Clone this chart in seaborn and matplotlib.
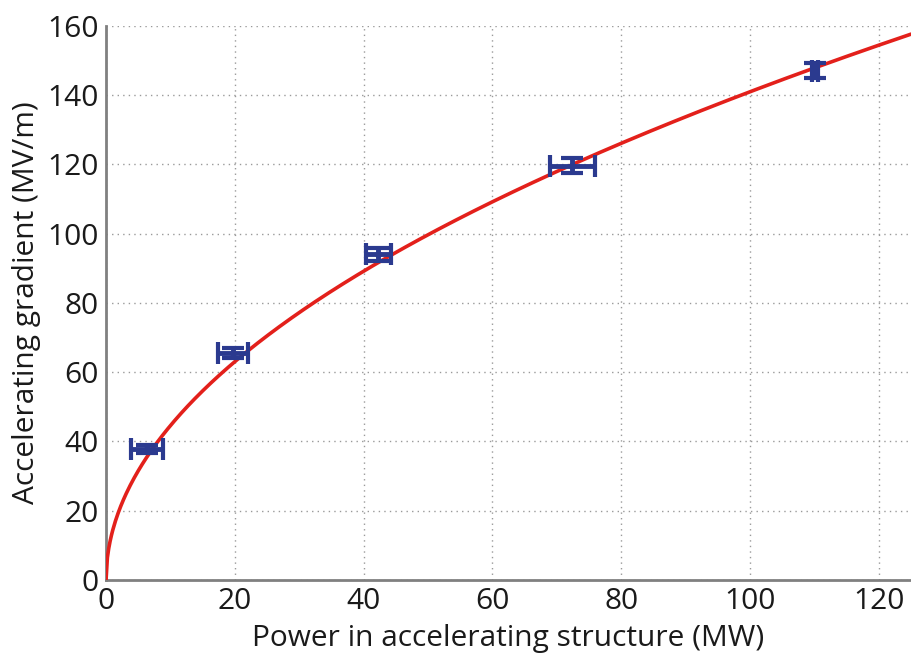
import numpy as np
import pandas as pd
import matplotlib
matplotlib.use("Agg")
import matplotlib.pyplot as plt
import seaborn as sns

# Measured points
power = [6.4, 19.7, 42.3, 72.4, 110.1]
gradient = [37.8, 65.6, 94.0, 119.7, 147.1]
power_err = [2.5, 2.3, 2.0, 3.5, 0.5]
gradient_err = [1.2, 1.5, 1.8, 2.2, 2.2]

# Fit G = k * sqrt(P), coefficient
fit_coef = 14.1
fit_power_max = 125

x_ticks = [0, 20, 40, 60, 80, 100, 120]
y_ticks = [0, 20, 40, 60, 80, 100, 120, 140, 160]

sns.set_style("white")
plt.rcParams['font.family'] = ['Open Sans', 'DejaVu Sans']

fig = plt.figure(figsize=(9.11, 6.56), dpi=100)
ax = fig.add_axes([0.1164, 0.1159, 0.8836, 0.8445])

fit_p = np.linspace(0, fit_power_max, 600)
fit_df = pd.DataFrame({"P": fit_p, "G": fit_coef * np.sqrt(fit_p)})
sns.lineplot(data=fit_df, x="P", y="G", ax=ax, color="#e3201b", lw=2.6, zorder=3)

blue = "#2b3a8f"
ax.errorbar(power, gradient, xerr=power_err, yerr=gradient_err, fmt="o",
            ms=4, color=blue, ecolor=blue, elinewidth=3.5, capsize=8, capthick=3,
            zorder=4, clip_on=False)

ax.set_xlim(0, 125)
ax.set_ylim(0, 160)
ax.set_xticks(x_ticks)
ax.set_yticks(y_ticks)
ax.grid(True, color="#9a9a9a", linestyle=(0, (1, 3)), lw=1)
for side in ["top", "right"]:
    ax.spines[side].set_visible(False)
for side in ["left", "bottom"]:
    ax.spines[side].set_color("#808080")
    ax.spines[side].set_linewidth(2)
ax.tick_params(direction="in", length=7, width=1.2, color="#808080",
               labelsize=21.5, labelcolor="#1a1a1a", pad=5)
ax.set_xlabel("Power in accelerating structure (MW)", fontsize=21.5, color="#1a1a1a", labelpad=6)
ax.set_ylabel("Accelerating gradient (MV/m)", fontsize=21.5, color="#1a1a1a", labelpad=5)

fig.savefig("out.png", dpi=100)
